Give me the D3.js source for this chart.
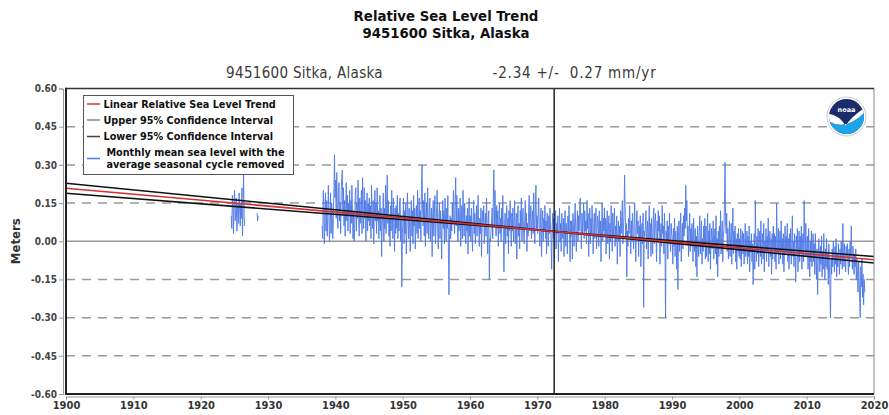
<!DOCTYPE html>
<html>
<head>
<meta charset="utf-8">
<script src="https://cdn.jsdelivr.net/npm/d3@7"></script>
<style>
  html, body { margin: 0; padding: 0; background: #fff; }
  svg { display: block; }
  .narrow { font-family: "Liberation Sans Narrow", "DejaVu Sans Condensed", "Arial Narrow", sans-serif; }
  .legend text { font-family: "DejaVu Sans", "Verdana", sans-serif; font-weight: bold; }
</style>
</head>
<body>
<svg id="chart" width="889" height="415"></svg>
<script>
// ---- Station and trend statistics ----
const chartTitle = "Relative Sea Level Trend";
const stationName = "9451600 Sitka, Alaska";
const trendRate = -2.34;     // mm/yr
const trendCI = 0.27;        // +/- mm/yr (95%)
const meanYear = 1972.5;     // centre of the record, where the confidence lines cross
const meanLevel = 0.0386;    // fitted level (m) at meanYear

// ---- Axis ticks ----
const xTicks = [1900, 1910, 1920, 1930, 1940, 1950, 1960, 1970, 1980, 1990, 2000, 2010, 2020];
const yTicks = [0.60, 0.45, 0.30, 0.15, 0.00, -0.15, -0.30, -0.45, -0.60];

// ---- Legend ----
const legendLabels = [
  "Linear Relative Sea Level Trend",
  "Upper 95% Confidence Interval",
  "Lower 95% Confidence Interval",
  "Monthly mean sea level with the|average seasonal cycle removed"
];

// ---- Monthly mean sea level (m), seasonal cycle removed ----
// Each block runs January..December from its start year; null = no record.
const start1924 = 1924;
const msl1924 = [
  null, null, null, null, null, null, 0.10, 0.05, 0.18, 0.14, 0.03, 0.16,
  0.20, 0.08, 0.12, 0.17, 0.04, 0.11, 0.15, 0.07, 0.19, 0.13, 0.06, 0.15,
  0.09, 0.21, 0.02, 0.12, 0.26, 0.10, 0.06, null, null, null, null, null,
  null, null, null, null, null, null, null, null, null, null, null, null,
  null, null, null, null, 0.11, 0.08, 0.10
];
const start1938 = 1938;
const msl1938 = [
  0.06, 0.01, 0.20, 0.14, -0.01, 0.11, 0.19, 0.04, 0.16, 0.02, 0.09, 0.22,
  0.12, 0.00, 0.05, 0.19, 0.03, 0.15, 0.10, 0.01, 0.09, 0.21, 0.34, 0.17,
  0.24, 0.09, 0.27, 0.12, 0.05, 0.19, 0.23, 0.08, 0.15, 0.03, 0.20, 0.25,
  0.28, 0.10, 0.21, 0.06, 0.16, 0.02, 0.13, 0.23, 0.08, 0.18, 0.04, 0.15,
  0.10, 0.20, 0.03, 0.16, 0.07, 0.22, 0.13, 0.01, 0.12, 0.00, 0.06, 0.18,
  0.21, 0.04, 0.15, 0.09, 0.24, 0.12, 0.02, 0.17, 0.07, 0.13, 0.20, 0.03,
  0.25, 0.12, 0.05, 0.21, 0.09, 0.16, 0.00, 0.11, 0.19, 0.04, 0.15, 0.08,
  0.17, 0.06, 0.14, 0.01, 0.22, 0.11, 0.05, 0.16, -0.01, 0.10, 0.20, 0.08,
  0.15, 0.03, 0.21, 0.08, 0.12, 0.01, 0.07, 0.18, 0.04, 0.13, -0.06, 0.06,
  0.11, 0.19, 0.00, 0.13, 0.05, 0.22, 0.03, 0.15, 0.26, 0.07, 0.16, 0.02,
  0.09, -0.02, 0.14, 0.04, 0.20, 0.10, 0.01, 0.17, 0.07, -0.04, 0.13, 0.03,
  0.14, 0.05, 0.18, 0.01, 0.11, 0.04, 0.15, 0.17, 0.00, 0.09, -0.18, 0.03
];
const start1950 = 1950;
const msl1950 = [
  0.08, 0.17, -0.01, 0.12, 0.03, 0.15, -0.05, 0.07, 0.19, 0.10, 0.01, 0.13,
  0.05, -0.04, 0.11, 0.16, 0.02, 0.12, -0.01, 0.18, 0.06, 0.13, -0.03, 0.09,
  0.14, 0.03, 0.20, 0.01, 0.10, 0.17, 0.05, 0.12, 0.00, 0.22, 0.30, 0.13,
  0.06, 0.16, 0.02, 0.19, -0.02, 0.10, 0.15, 0.03, 0.21, 0.08, 0.01, 0.12,
  0.17, 0.00, 0.07, 0.13, -0.06, 0.09, 0.16, 0.02, 0.11, 0.18, -0.01, 0.06,
  0.13, 0.20, 0.03, -0.03, 0.09, 0.15, 0.01, 0.12, 0.05, -0.07, 0.07, 0.16,
  0.05, 0.12, -0.01, 0.17, 0.07, 0.00, 0.13, 0.05, 0.18, -0.03, -0.21, 0.03,
  0.10, 0.01, 0.09, 0.04, 0.15, 0.07, 0.20, 0.11, 0.03, 0.15, 0.25, 0.06,
  0.18, 0.08, 0.00, 0.13, 0.04, 0.10, 0.17, -0.02, 0.07, 0.14, 0.01, 0.20,
  0.11, 0.02, 0.15, 0.05, -0.01, 0.10, 0.04, 0.13, -0.05, 0.08, 0.17, 0.02
];
const start1960 = 1960;
const msl1960 = [
  0.10, 0.00, 0.13, 0.04, -0.04, 0.08, 0.16, 0.03, 0.11, -0.01, 0.06, 0.14,
  0.02, 0.10, 0.18, 0.06, -0.02, 0.09, 0.03, 0.13, -0.06, 0.05, 0.12, 0.07,
  0.14, -0.01, 0.06, 0.11, 0.02, 0.17, 0.05, -0.05, 0.09, 0.12, -0.15, 0.01,
  0.00, 0.04, 0.08, 0.13, 0.01, 0.17, 0.28, 0.06, 0.20, 0.10, 0.02, 0.14,
  0.05, 0.12, -0.02, 0.08, 0.15, 0.03, 0.09, 0.00, 0.13, 0.06, 0.18, 0.02,
  -0.12, 0.05, 0.11, -0.01, 0.08, 0.14, 0.02, 0.09, -0.05, 0.12, 0.04, 0.16,
  0.07, -0.02, 0.11, 0.04, 0.13, 0.00, 0.08, 0.16, -0.01, 0.05, 0.11, -0.07,
  0.09, 0.14, 0.02, 0.07, -0.03, 0.12, 0.05, 0.17, 0.00, 0.08, 0.13, 0.03,
  -0.01, 0.08, 0.16, 0.05, 0.11, -0.04, 0.07, 0.02, 0.12, 0.18, 0.04, 0.09,
  0.14, 0.01, 0.08, 0.12, 0.03, 0.19, 0.09, -0.01, 0.13, 0.22, 0.05, 0.10
];
const start1970 = 1970;
const msl1970 = [
  0.03, 0.11, 0.17, 0.05, -0.02, 0.08, 0.13, -0.06, 0.07, 0.12, 0.00, 0.09,
  0.04, 0.14, 0.01, 0.08, -0.05, 0.11, 0.05, -0.02, 0.10, 0.03, 0.13, 0.06,
  0.00, -0.11, 0.06, 0.11, 0.01, 0.09, -0.07, 0.04, 0.12, -0.03, 0.07, 0.03,
  0.10, -0.08, 0.03, 0.13, 0.00, 0.07, -0.04, 0.11, 0.04, 0.01, 0.09, -0.06,
  0.06, 0.12, -0.02, 0.07, 0.03, -0.05, 0.10, 0.04, 0.14, 0.00, -0.08, 0.08,
  0.02, 0.08, -0.07, 0.11, 0.04, -0.02, 0.08, 0.15, 0.03, -0.04, 0.06, 0.12,
  0.00, 0.10, 0.04, 0.14, 0.17, 0.06, -0.03, 0.11, 0.03, 0.08, 0.15, 0.01,
  0.12, 0.04, 0.08, -0.01, 0.16, 0.05, 0.11, -0.06, 0.07, 0.13, -0.01, 0.09,
  0.03, 0.14, 0.07, -0.05, 0.05, 0.11, 0.01, 0.08, 0.13, -0.03, 0.04, 0.10,
  0.07, -0.02, 0.12, 0.03, 0.08, -0.08, 0.05, 0.15, 0.00, 0.09, 0.04, 0.13
];
const start1980 = 1980;
const msl1980 = [
  0.02, 0.09, -0.05, 0.06, 0.12, -0.01, 0.04, 0.10, -0.07, 0.07, 0.00, 0.14,
  0.05, -0.04, 0.11, 0.02, 0.07, 0.13, -0.02, 0.06, 0.00, 0.10, -0.09, 0.03,
  0.08, 0.00, 0.06, -0.06, 0.12, 0.03, 0.07, 0.16, -0.01, 0.05, 0.11, 0.26,
  0.13, 0.01, 0.07, -0.14, 0.04, -0.02, 0.09, 0.03, 0.14, 0.05, -0.05, 0.08,
  0.00, 0.11, 0.04, -0.03, 0.07, 0.15, 0.02, -0.08, 0.06, 0.12, 0.03, 0.08,
  -0.06, 0.06, 0.00, 0.10, -0.10, 0.03, 0.07, -0.01, 0.11, -0.26, 0.04, 0.02,
  0.06, 0.12, -0.03, 0.03, 0.08, -0.07, 0.05, 0.14, 0.00, 0.07, -0.06, 0.09,
  0.03, -0.05, 0.07, 0.13, -0.01, 0.06, 0.11, 0.02, -0.08, 0.08, 0.00, 0.12,
  0.04, 0.10, -0.09, 0.02, 0.07, -0.02, 0.14, 0.03, 0.06, -0.05, 0.11, -0.01,
  -0.30, 0.04, 0.00, 0.08, -0.07, 0.06, -0.01, 0.11, 0.02, -0.04, 0.07, 0.03
];
const start1990 = 1990;
const msl1990 = [
  0.01, -0.09, 0.05, -0.02, 0.09, -0.06, 0.04, -0.01, -0.11, 0.06, -0.19, 0.02,
  0.08, -0.04, 0.03, 0.11, -0.08, 0.01, 0.07, -0.03, 0.10, 0.02, 0.13, 0.05,
  0.22, 0.08, 0.16, -0.01, 0.06, -0.06, 0.03, 0.11, -0.04, 0.05, -0.02, 0.07,
  0.02, -0.08, 0.09, 0.01, -0.04, 0.05, -0.10, 0.02, -0.14, 0.06, -0.01, -0.06,
  0.04, 0.10, -0.05, 0.02, 0.08, -0.09, 0.01, -0.04, 0.06, -0.02, 0.09, -0.07,
  0.06, -0.06, 0.00, 0.11, -0.08, 0.04, -0.05, 0.07, -0.11, 0.01, 0.05, -0.03,
  0.02, 0.08, -0.07, 0.00, 0.05, -0.05, 0.10, -0.09, 0.01, -0.14, 0.04, -0.06,
  0.06, -0.02, 0.12, -0.05, 0.02, 0.08, -0.08, 0.01, 0.05, 0.14, 0.31, 0.08,
  0.03, 0.11, -0.04, 0.05, -0.07, 0.01, 0.08, -0.06, 0.00, 0.07, -0.09, 0.02,
  0.13, -0.05, 0.04, -0.02, 0.06, -0.08, 0.01, -0.11, 0.03, -0.04, 0.05, -0.06
];
const start2000 = 2000;
const msl2000 = [
  0.01, -0.07, 0.05, -0.10, 0.00, 0.04, -0.05, 0.03, -0.09, -0.02, 0.07, -0.06,
  -0.03, 0.04, -0.09, 0.02, -0.06, 0.06, -0.12, 0.00, -0.04, 0.03, -0.08, -0.01,
  -0.17, -0.07, 0.03, -0.11, 0.16, 0.00, -0.08, 0.02, -0.05, 0.05, -0.10, -0.01,
  0.04, -0.06, 0.08, -0.09, -0.01, 0.03, -0.07, 0.07, -0.12, 0.00, -0.04, 0.05,
  -0.08, 0.02, -0.04, 0.09, -0.10, -0.01, 0.04, -0.06, 0.01, -0.13, 0.03, -0.07,
  0.06, -0.03, 0.03, -0.08, 0.02, -0.11, 0.15, 0.00, -0.05, 0.05, -0.09, -0.01,
  0.04, -0.07, 0.08, -0.04, 0.01, -0.09, 0.03, -0.12, -0.01, 0.06, -0.05, 0.02,
  -0.04, 0.07, -0.08, 0.01, -0.11, 0.03, -0.05, 0.05, -0.09, -0.01, 0.10, -0.06,
  0.00, -0.10, 0.03, -0.06, -0.16, 0.02, -0.04, 0.05, -0.12, -0.02, 0.04, -0.08,
  0.02, -0.05, 0.06, -0.11, -0.01, 0.03, -0.08, 0.16, 0.00, -0.06, 0.07, -0.03
];
const start2010 = 2010;
const msl2010 = [
  -0.06, 0.02, -0.11, 0.05, -0.04, -0.14, 0.00, -0.08, 0.04, -0.10, -0.02, 0.03,
  -0.08, -0.01, -0.13, 0.03, -0.06, -0.15, -0.03, -0.21, -0.09, 0.01, -0.05, -0.12,
  -0.02, -0.09, 0.02, -0.14, -0.04, -0.11, 0.03, -0.07, -0.15, -0.03, -0.10, 0.01,
  -0.11, -0.05, -0.17, -0.01, -0.09, -0.19, -0.30, -0.07, -0.13, -0.03, -0.10, 0.00,
  -0.06, -0.12, -0.02, -0.09, 0.01, -0.14, -0.05, -0.10, -0.01, -0.08, -0.13, -0.03,
  -0.09, 0.00, -0.06, -0.11, 0.07, -0.04, -0.10, -0.01, -0.07, -0.12, -0.02, -0.06,
  -0.01, -0.08, -0.13, -0.03, -0.10, 0.00, -0.06, 0.06, -0.05, -0.11, -0.02, -0.08,
  -0.13, -0.05, -0.10, -0.03, -0.15, -0.07, -0.12, -0.20, -0.08, -0.14, -0.24, -0.30,
  -0.10, -0.18, -0.07, -0.22, -0.13, -0.25, -0.15, -0.20
];

// ---- Layout ----
const plot = { left: 66, right: 874, top: 88.5, bottom: 394 };

const svg = d3.select("#chart");
const x = d3.scaleLinear().domain([1900, 2020]).range([plot.left, plot.right]);
const y = d3.scaleLinear().domain([-0.6, 0.6]).range([plot.bottom, plot.top]);

// Monthly records -> points (mid-month time)
function toPoints(startYear, values) {
  return values.map((v, i) => ({ t: startYear + (i + 0.5) / 12, v }));
}
const blocks = [
  [start1924, msl1924], [start1938, msl1938], [start1950, msl1950], [start1960, msl1960],
  [start1970, msl1970], [start1980, msl1980], [start1990, msl1990], [start2000, msl2000],
  [start2010, msl2010]
];
// Join blocks, inserting a gap marker between non-contiguous ones
let monthly = [];
blocks.forEach(([s, vals], k) => {
  const pts = toPoints(s, vals);
  if (k > 0) {
    const prev = monthly[monthly.length - 1];
    if (pts[0].t - prev.t > 0.1) monthly.push({ t: prev.t + 0.04, v: null });
  }
  monthly = monthly.concat(pts);
});

// ---- Titles ----
svg.append("text").attr("class", "narrow")
  .attr("x", 446).attr("y", 21).attr("text-anchor", "middle")
  .attr("font-size", 14.8).attr("font-weight", "bold").attr("fill", "#111")
  .text(chartTitle);
svg.append("text").attr("class", "narrow")
  .attr("x", 446).attr("y", 38).attr("text-anchor", "middle")
  .attr("font-size", 14.8).attr("font-weight", "bold").attr("fill", "#111")
  .text(stationName);

svg.append("text").attr("class", "narrow")
  .attr("x", 304.5).attr("y", 78).attr("text-anchor", "middle")
  .attr("font-size", 15).attr("letter-spacing", 0.3).attr("fill", "#3a3a3a")
  .text(stationName);
svg.append("text").attr("class", "narrow")
  .attr("x", 574.5).attr("y", 78).attr("text-anchor", "middle")
  .attr("font-size", 15).attr("letter-spacing", 0.8).attr("fill", "#3a3a3a")
  .style("white-space", "pre")
  .text(`${trendRate.toFixed(2)} +/-  ${trendCI.toFixed(2)} mm/yr`);

// ---- Y axis ----
const yAxis = svg.append("g").attr("transform", `translate(${plot.left - 3},0)`)
  .call(d3.axisLeft(y).tickValues(yTicks).tickSize(4).tickPadding(2)
    .tickFormat(v => (v < 0 ? "-" : "") + Math.abs(v).toFixed(2)));
yAxis.select(".domain").attr("stroke", "#999");
yAxis.selectAll(".tick line").attr("stroke", "#999");
yAxis.selectAll(".tick text").attr("class", "narrow")
  .attr("font-size", 10).attr("font-weight", "bold").attr("fill", "#444");

svg.append("text").attr("class", "narrow")
  .attr("transform", `translate(20,${(plot.top + plot.bottom) / 2}) rotate(-90)`)
  .attr("text-anchor", "middle").attr("font-size", 13).attr("font-weight", "bold")
  .attr("fill", "#333").text("Meters");

// ---- X axis ----
const xAxis = svg.append("g").attr("transform", `translate(0,${plot.bottom + 2.5})`)
  .call(d3.axisBottom(x).tickValues(xTicks).tickSize(3).tickPadding(2).tickFormat(d3.format("d")));
xAxis.select(".domain").attr("stroke", "#999");
xAxis.selectAll(".tick line").attr("stroke", "#999");
xAxis.selectAll(".tick text").attr("class", "narrow")
  .attr("font-size", 11).attr("font-weight", "bold").attr("fill", "#333");

// ---- Grid ----
const grid = svg.append("g");
grid.selectAll("line").data(yTicks.filter(v => Math.abs(v) < 0.59)).join("line")
  .attr("x1", plot.left).attr("x2", plot.right)
  .attr("y1", d => y(d)).attr("y2", d => y(d))
  .attr("stroke", "#9a9a9a").attr("stroke-width", 1.5)
  .attr("stroke-dasharray", d => d === 0 ? null : "9,7");

// ---- Monthly series ----
svg.append("clipPath").attr("id", "plotClip").append("rect")
  .attr("x", plot.left).attr("y", plot.top)
  .attr("width", plot.right - plot.left).attr("height", plot.bottom - plot.top);

const lineGen = d3.line().defined(d => d.v != null).x(d => x(d.t)).y(d => y(d.v));
svg.append("path").datum(monthly)
  .attr("clip-path", "url(#plotClip)")
  .attr("fill", "none").attr("stroke", "#4d78e6").attr("stroke-width", 0.9)
  .attr("stroke-linejoin", "round")
  .attr("d", lineGen);

// ---- Trend and confidence lines ----
const rateLines = [
  { rate: trendRate - trendCI, color: "#111", width: 1.6 },
  { rate: trendRate + trendCI, color: "#111", width: 1.6 },
  { rate: trendRate, color: "#d43030", width: 1.6 }
];
const ends = [1900, 2020];
rateLines.forEach(r => {
  svg.append("path")
    .datum(ends.map(t => ({ t, v: meanLevel + r.rate / 1000 * (t - meanYear) })))
    .attr("clip-path", "url(#plotClip)")
    .attr("fill", "none").attr("stroke", r.color).attr("stroke-width", r.width)
    .attr("d", lineGen);
});

// Vertical line at the centre year of the record
svg.append("line")
  .attr("x1", x(meanYear)).attr("x2", x(meanYear))
  .attr("y1", plot.top).attr("y2", plot.bottom)
  .attr("stroke", "#222").attr("stroke-width", 1.5);

// ---- Plot frame ----
svg.append("line").attr("x1", plot.right).attr("x2", plot.right)
  .attr("y1", plot.top).attr("y2", plot.bottom).attr("stroke", "#888").attr("stroke-width", 1);
svg.append("line").attr("x1", plot.left).attr("x2", plot.right)
  .attr("y1", plot.top).attr("y2", plot.top).attr("stroke", "#333").attr("stroke-width", 1.6);
svg.append("line").attr("x1", plot.left).attr("x2", plot.left)
  .attr("y1", plot.top - 0.8).attr("y2", plot.bottom + 1).attr("stroke", "#222").attr("stroke-width", 2);
svg.append("line").attr("x1", plot.left).attr("x2", plot.right)
  .attr("y1", plot.bottom).attr("y2", plot.bottom).attr("stroke", "#222").attr("stroke-width", 2);

// ---- Legend ----
const legend = svg.append("g").attr("class", "legend");
legend.append("rect").attr("x", 83.5).attr("y", 95.5).attr("width", 210).attr("height", 79)
  .attr("fill", "#fff").attr("stroke", "#555").attr("stroke-width", 1);
const swatchColors = ["#d43030", "#888", "#444", "#4d78e6"];
const rowY = [104, 120, 136.5, 158.5];
legendLabels.forEach((lab, i) => {
  legend.append("line").attr("x1", 87).attr("x2", 100)
    .attr("y1", rowY[i]).attr("y2", rowY[i])
    .attr("stroke", swatchColors[i]).attr("stroke-width", 1.5);
  const parts = lab.split("|");
  if (parts.length === 1) {
    legend.append("text").attr("x", 103.5).attr("y", rowY[i] + 3.5)
      .attr("font-size", 9.7).attr("fill", "#111").text(lab);
  } else {
    parts.forEach((p, j) => {
      legend.append("text").attr("x", 195.5).attr("y", rowY[i] - 3 + j * 12.5)
        .attr("text-anchor", "middle")
        .attr("font-size", 9.7).attr("fill", "#111").text(p);
    });
  }
});

// ---- Agency emblem ----
const logo = svg.append("g").attr("transform", "translate(846.5,116.5)");
logo.append("circle").attr("r", 19.5).attr("fill", "#fff").attr("stroke", "#c8c8d0").attr("stroke-width", 1);
logo.append("clipPath").attr("id", "logoClip").append("circle").attr("r", 17.5);
const lg = logo.append("g").attr("clip-path", "url(#logoClip)");
lg.append("rect").attr("x", -20).attr("y", -20).attr("width", 40).attr("height", 40).attr("fill", "#1b2c6b");
lg.append("path").attr("d", "M-20,3 Q-2,17 20,-6 L20,20 L-20,20 Z").attr("fill", "#1ea4ea");
lg.append("path").attr("d", "M-20,-3 Q-8,-2 -1,9 Q6,-1 20,-10 L20,-6 Q-2,17 -20,3 Z").attr("fill", "#fff");
logo.append("text").attr("y", -5).attr("text-anchor", "middle")
  .attr("font-family", "DejaVu Sans, sans-serif").attr("font-size", 6.5).attr("font-weight", "bold")
  .attr("fill", "#fff").text("noaa");
</script>
</body>
</html>
